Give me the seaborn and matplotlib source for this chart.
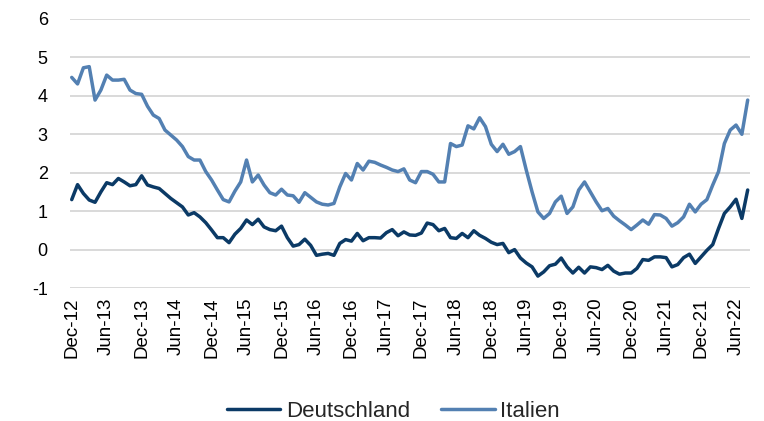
import numpy as np
import pandas as pd
import matplotlib
matplotlib.use("Agg")
import matplotlib.pyplot as plt
import seaborn as sns

# Monthly values, Dec-12 .. Aug-22
italien = [4.48, 4.31, 4.73, 4.76, 3.89, 4.15, 4.54, 4.41, 4.41, 4.43, 4.15, 4.06,
           4.04, 3.73, 3.50, 3.41, 3.11, 2.98, 2.85, 2.68, 2.42, 2.33, 2.33, 2.03,
           1.81, 1.55, 1.30, 1.24, 1.52, 1.76, 2.33, 1.76, 1.94, 1.68, 1.48, 1.42,
           1.57, 1.42, 1.40, 1.23, 1.48, 1.36, 1.24, 1.18, 1.16, 1.20, 1.63, 1.98,
           1.81, 2.24, 2.07, 2.30, 2.27, 2.20, 2.14, 2.07, 2.03, 2.10, 1.81, 1.74,
           2.03, 2.03, 1.96, 1.76, 1.76, 2.76, 2.68, 2.72, 3.22, 3.14, 3.43, 3.20,
           2.74, 2.55, 2.74, 2.48, 2.55, 2.68, 2.07, 1.50, 0.98, 0.81, 0.94, 1.24,
           1.39, 0.94, 1.11, 1.55, 1.76, 1.50, 1.24, 1.01, 1.07, 0.87, 0.75, 0.64,
           0.52, 0.64, 0.77, 0.66, 0.91, 0.90, 0.81, 0.61, 0.70, 0.85, 1.18, 0.98,
           1.18, 1.30, 1.68, 2.03, 2.76, 3.11, 3.24, 3.00, 3.89]

deutschland = [1.30, 1.69, 1.46, 1.29, 1.23, 1.50, 1.74, 1.69, 1.85, 1.76, 1.66, 1.69,
               1.92, 1.68, 1.63, 1.59, 1.46, 1.33, 1.22, 1.11, 0.90, 0.96, 0.85, 0.70,
               0.51, 0.31, 0.31, 0.18, 0.40, 0.55, 0.77, 0.65, 0.79, 0.59, 0.52, 0.49,
               0.61, 0.31, 0.09, 0.13, 0.27, 0.11, -0.15, -0.12, -0.10, -0.15, 0.16, 0.26,
               0.22, 0.42, 0.23, 0.31, 0.31, 0.30, 0.44, 0.52, 0.36, 0.46, 0.38, 0.37,
               0.43, 0.69, 0.65, 0.49, 0.55, 0.31, 0.29, 0.42, 0.31, 0.49, 0.37, 0.29,
               0.19, 0.13, 0.16, -0.08, 0.00, -0.22, -0.35, -0.45, -0.69, -0.58, -0.42, -0.38,
               -0.22, -0.45, -0.61, -0.46, -0.61, -0.45, -0.47, -0.52, -0.41, -0.56, -0.64, -0.61,
               -0.61, -0.49, -0.26, -0.28, -0.19, -0.19, -0.21, -0.45, -0.39, -0.21, -0.12, -0.36,
               -0.19, -0.02, 0.13, 0.55, 0.94, 1.11, 1.31, 0.81, 1.55]

tick_labels = ["Dec-12", "Jun-13", "Dec-13", "Jun-14", "Dec-14", "Jun-15", "Dec-15",
               "Jun-16", "Dec-16", "Jun-17", "Dec-17", "Jun-18", "Dec-18", "Jun-19",
               "Dec-19", "Jun-20", "Dec-20", "Jun-21", "Dec-21", "Jun-22"]
series_names = ["Deutschland", "Italien"]
colors = ["#0B3A66", "#5380B2"]

month_idx = np.arange(len(italien))
df = pd.DataFrame({
    "idx": np.concatenate([month_idx, month_idx]),
    "value": deutschland + italien,
    "Land": [series_names[0]] * len(deutschland) + [series_names[1]] * len(italien),
})

sns.set_theme(style="white")
plt.rcParams["font.family"] = ["Liberation Sans", "DejaVu Sans"]
plt.rcParams["axes.unicode_minus"] = False

fig = plt.figure(figsize=(7.64, 4.21), dpi=100)
ax = fig.add_axes([0.0916, 0.3159, 0.8901, 0.639])

sns.lineplot(data=df, x="idx", y="value", hue="Land", palette=colors,
             linewidth=2.5, ax=ax, legend=True)

ax.set_ylim(-1, 6)
ax.set_yticks(range(-1, 7))
ax.set_yticklabels([str(v) for v in range(-1, 7)])
ax.set_xlim(-0.3, len(italien) - 1 + 0.4)
ax.set_xticks(np.arange(0, 6 * len(tick_labels), 6))
ax.set_xticklabels(tick_labels, rotation=90)
ax.grid(axis="y", color="#D9D9D9", linewidth=1.4)
ax.grid(axis="x", visible=False)
ax.set_axisbelow(True)
for s in ax.spines.values():
    s.set_visible(False)
ax.tick_params(axis="y", length=0, pad=16, labelsize=13, colors="#000000")
ax.tick_params(axis="x", length=0, pad=7, labelsize=13.5, colors="#000000")
ax.set_xlabel("")
ax.set_ylabel("")

handles, labels = ax.get_legend_handles_labels()
ax.get_legend().remove()
fig.legend(handles, labels, loc="lower center", bbox_to_anchor=(0.515, -0.05),
           ncol=2, frameon=False, fontsize=16, handlelength=2.4,
           columnspacing=1.4, handletextpad=0.25)

fig.savefig("out.png", dpi=100)
